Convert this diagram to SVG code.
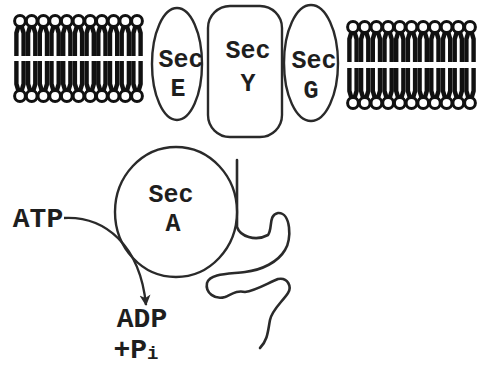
<svg xmlns="http://www.w3.org/2000/svg" width="482" height="366" viewBox="0 0 482 366">
  <style>
    .shape { fill: #fff; stroke: #2a2a2a; stroke-width: 2.4; }
    .lbl { font-family: "Liberation Mono", "DejaVu Sans Mono", monospace; font-weight: bold; fill: #1e1e1e; text-anchor: middle; }
    .sec { font-size: 25px; }
    .mol { font-size: 28px; }
    .head { fill: #fff; stroke: #111; stroke-width: 3; }
    .tail { fill: none; stroke: #111; stroke-width: 4.4; stroke-linejoin: round; }
    .chain { fill: none; stroke: #2a2a2a; stroke-width: 2.6; stroke-linecap: round; stroke-linejoin: round; }
    .arrow { fill: none; stroke: #2a2a2a; stroke-width: 2.4; }
  </style>
  <defs>
    <!-- one phospholipid, head up, two tails down -->
    <g id="lipid">
      <path class="tail" d="M -1.2,4 L -3.6,12 L -3.6,35 M 1.2,4 L 3.6,12 L 3.6,35"/>
      <circle class="head" cx="0" cy="0" r="5.4"/>
    </g>
    <!-- a row of eleven lipids -->
    <g id="leaflet">
      <use href="#lipid" x="0"/>
      <use href="#lipid" x="11.7"/>
      <use href="#lipid" x="23.4"/>
      <use href="#lipid" x="35.1"/>
      <use href="#lipid" x="46.8"/>
      <use href="#lipid" x="58.5"/>
      <use href="#lipid" x="70.2"/>
      <use href="#lipid" x="81.9"/>
      <use href="#lipid" x="93.6"/>
      <use href="#lipid" x="105.3"/>
      <use href="#lipid" x="117"/>
    </g>
    <marker id="head" viewBox="0 0 12 12" refX="10" refY="6" markerWidth="12" markerHeight="12" markerUnits="userSpaceOnUse" orient="auto">
      <path d="M 0,0.5 L 11,6 L 0,11.5 L 3,6 Z" fill="#2a2a2a"/>
    </marker>
  </defs>

  <!-- lipid bilayer, left part -->
  <g id="membrane-left">
    <use href="#leaflet" x="20" y="21"/>
    <use href="#leaflet" transform="translate(20,96) scale(1,-1)"/>
  </g>

  <!-- lipid bilayer, right part -->
  <g id="membrane-right">
    <use href="#leaflet" x="353" y="27"/>
    <use href="#leaflet" transform="translate(353,103) scale(1,-1)"/>
  </g>

  <!-- translocated polypeptide -->
  <g id="polypeptide">
    <path class="chain" d="M 237,160 L 237,227 C 240,236 255,242 268,235 C 273,228 268,215 278,213 C 291,212 292,240 285,250 C 278,262 262,270 245,272 C 230,274 210,273 207,283 C 205,293 215,300 225,297 C 232,294 237,290 245,292 C 255,291 268,283 278,279 C 288,277 292,287 288,293 C 282,302 272,310 270,320 C 268,330 268,340 260,348"/>
  </g>

  <g id="secA">
    <ellipse class="shape" cx="176" cy="212" rx="61" ry="65"/>
    <text class="lbl sec" x="171" y="202">Sec</text>
    <text class="lbl sec" x="173" y="231">A</text>
  </g>

  <g id="secE">
    <ellipse class="shape" cx="177" cy="64" rx="25" ry="56"/>
    <text class="lbl sec" x="181" y="67">Sec</text>
    <text class="lbl sec" x="178" y="96">E</text>
  </g>

  <g id="secY">
    <rect class="shape" x="208" y="6" width="74" height="131" rx="22" ry="22"/>
    <text class="lbl sec" x="248" y="58">Sec</text>
    <text class="lbl sec" x="248" y="91">Y</text>
  </g>

  <g id="secG">
    <ellipse class="shape" cx="311" cy="63" rx="27" ry="58"/>
    <text class="lbl sec" x="314" y="68">Sec</text>
    <text class="lbl sec" x="311" y="98">G</text>
  </g>

  <g id="connectors">
    <path class="arrow" d="M 64,218 C 105,216 140,245 146,305" marker-end="url(#head)"/>
  </g>

  <g id="labels">
    <text class="lbl mol" x="38" y="227">ATP</text>
    <text class="lbl mol" x="142" y="327">ADP</text>
    <text class="lbl mol" x="136" y="358">+P<tspan font-size="19" dy="1">i</tspan></text>
  </g>
</svg>
